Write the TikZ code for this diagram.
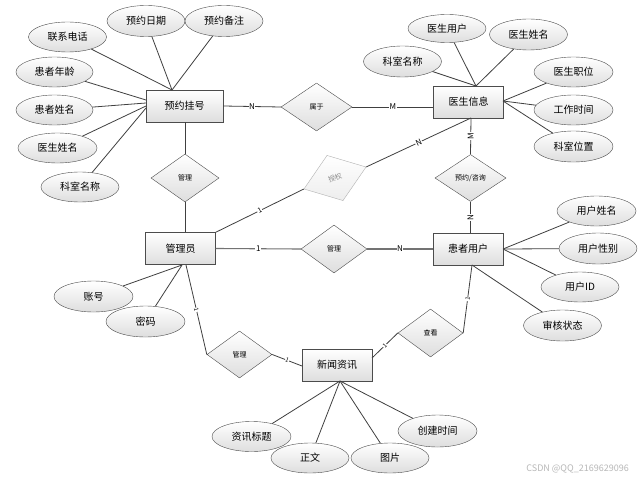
\documentclass[tikz,border=0pt]{standalone}
\usepackage{fontspec}
\setmainfont{Noto Sans CJK SC}
\usetikzlibrary{shapes.geometric}
\begin{document}
\begin{tikzpicture}[x=1pt,y=-1pt,
  ent/.style={draw=black!70, rectangle, top color=white, bottom color=black!13, minimum width=70pt, minimum height=32pt, inner sep=0pt, font=\fontsize{10}{12}\selectfont},
  attr/.style={draw=black!70, ellipse, top color=white, bottom color=black!13, minimum width=78pt, minimum height=30pt, inner sep=0pt, font=\fontsize{10}{12}\selectfont},
  rel/.style={draw=black!70, diamond, top color=white, bottom color=black!13, minimum width=68pt, minimum height=48pt, inner sep=0pt, font=\fontsize{7}{8}\selectfont},
  ln/.style={draw=black!75, line width=0.8pt},
  card/.style={fill=white, inner sep=0.6pt, font=\fontsize{8}{9}\selectfont},
  cardsm/.style={fill=white, inner sep=0.4pt, font=\fontsize{6}{7}\selectfont, sloped}
]
\fill[white] (0,0) rectangle (644,481);
\useasboundingbox (0,0) rectangle (644,481);

% entities
\node[ent, minimum width=77pt] (yy) at (184.5,106) {预约挂号};
\node[ent] (ys) at (468.5,102) {医生信息};
\node[ent] (gly) at (180.5,248.5) {管理员};
\node[ent] (hz) at (468,249) {患者用户};
\node[ent] (xw) at (337,365) {新闻资讯};

% relationships
\node[rel, minimum width=71pt] (sy) at (316.5,107) {属于};
\node[rel] (gl1) at (185,178) {管理};
\node[rel, minimum width=66pt] (gl2) at (334,249) {管理};
\node[rel, minimum width=65pt, minimum height=47pt] (gl3) at (239.5,354.5) {管理};
\node[rel, minimum width=65pt] (ck) at (430.5,333) {查看};
\node[rel, minimum width=71pt, minimum height=47pt] (yz) at (470.5,178) {预约/咨询};
\node[rel, rotate=19.5, draw=black!30, bottom color=black!7, text=black!45, minimum width=66pt] (sq) at (335,178) {授权};

% attributes of 预约挂号
\node[attr] (a1) at (67.5,37) {联系电话};
\node[attr, minimum height=31pt] (a2) at (146,21) {预约日期};
\node[attr, minimum height=31pt] (a3) at (224,21) {预约备注};
\node[attr, minimum width=77pt] (a4) at (54.5,72) {患者年龄};
\node[attr, minimum width=77pt] (a5) at (54.5,110) {患者姓名};
\node[attr, minimum width=79pt] (a6) at (57.5,148) {医生姓名};
\node[attr] (a7) at (80,187) {科室名称};

% attributes of 医生信息
\node[attr, minimum height=28pt] (b1) at (447,28.5) {医生用户};
\node[attr, minimum height=31pt] (b2) at (528.5,34.5) {医生姓名};
\node[attr, minimum height=31pt] (b3) at (402.5,61.5) {科室名称};
\node[attr, minimum width=79pt] (b4) at (573.5,72) {医生职位};
\node[attr, minimum width=79pt] (b5) at (573.5,110) {工作时间};
\node[attr, minimum width=79pt, minimum height=31pt] (b6) at (573.5,146.5) {科室位置};

% attributes of 患者用户
\node[attr, minimum width=79pt] (c1) at (596.5,211) {用户姓名};
\node[attr, minimum width=78pt, minimum height=31pt] (c2) at (598,248.5) {用户性别};
\node[attr] (c3) at (580,287) {用户ID};
\node[attr, minimum height=31pt] (c4) at (562.5,325.5) {审核状态};

% attributes of 管理员
\node[attr, minimum width=79pt, minimum height=31pt] (d1) at (93.5,296.5) {账号};
\node[attr, minimum width=79pt, minimum height=31pt] (d2) at (145.5,321.5) {密码};

% attributes of 新闻资讯
\node[attr, minimum width=79pt] (e1) at (251.5,436.5) {资讯标题};
\node[attr] (e2) at (310,458) {正文};
\node[attr] (e3) at (390,458) {图片};
\node[attr, minimum width=79pt, minimum height=32pt] (e4) at (437.5,431) {创建时间};

% connection points
\coordinate (yyT) at (172,90);
\coordinate (yyL1) at (146,100);
\coordinate (yyL2) at (146,103);
\coordinate (yyL3) at (146,106);
\coordinate (yyL4) at (146,108);
\coordinate (ysT) at (476,86);
\coordinate (ysR) at (503,101);
\coordinate (ysB) at (471,118);
\coordinate (glyB) at (186,265);
\coordinate (glyB2) at (182,265);
\coordinate (hzR) at (503,249);
\coordinate (hzB) at (472,265);
\coordinate (xwB) at (340,381);
\coordinate (xwL) at (302,366);
\coordinate (xwR) at (372,358);

% attribute lines
\foreach \a in {a1,a2,a3} \draw[ln] (\a) -- (yyT);
\draw[ln] (a4) -- (yyL1);
\draw[ln] (a5) -- (yyL2);
\draw[ln] (a6) -- (yyL3);
\draw[ln] (a7) -- (yyL4);
\foreach \a in {b1,b2,b3} \draw[ln] (\a) -- (ysT);
\foreach \a in {b4,b5,b6} \draw[ln] (\a) -- (ysR);
\foreach \a in {c1,c2,c3} \draw[ln] (\a) -- (hzR);
\draw[ln] (c4) -- (hzB);
\foreach \a in {d1,d2} \draw[ln] (\a) -- (glyB2);
\foreach \a in {e1,e2,e3,e4} \draw[ln] (\a) -- (xwB);

% relationship lines
\draw[ln] (yy.east) -- node[card]{N} (sy.west);
\draw[ln] (sy.east) -- node[card]{M} (sy.east -| ys.west);
\draw[ln] (yy.south -| gl1.north) -- (gl1.north);
\draw[ln] (gl1.south) -- (gl1.south |- gly.north);
\draw[ln] (gly.north east) -- node[card, sloped, font=\fontsize{7}{8}\selectfont]{1} (sq.west);
\draw[ln] (sq.east) -- node[card, sloped]{N} (ysB);
\draw[ln] (ysB) -- node[card, rotate=90]{M} (yz.north);
\draw[ln] (yz.south) -- node[card, rotate=90]{N} (yz.south |- hz.north);
\draw[ln, draw=black!55, line width=1.1pt] (gly.east) -- node[card, text=black]{1} (gl2.west);
\draw[ln, draw=black!55, line width=1.1pt] (gl2.east) -- node[card, text=black]{N} (hz.west);
\draw[ln] (glyB) -- node[cardsm]{1} (gl3.west);
\draw[ln] (gl3.east) -- node[cardsm]{1} (xwL);
\draw[ln] (xwR) -- node[cardsm]{1} (ck.west);
\draw[ln] (ck.east) -- node[cardsm]{1} (hzB);

% watermark
\node[text=black!28, font=\fontsize{9}{10}\selectfont, anchor=east, inner sep=0pt] (wm) at (629,469) {CSDN @QQ\_2169629096};
\end{tikzpicture}
\end{document}
